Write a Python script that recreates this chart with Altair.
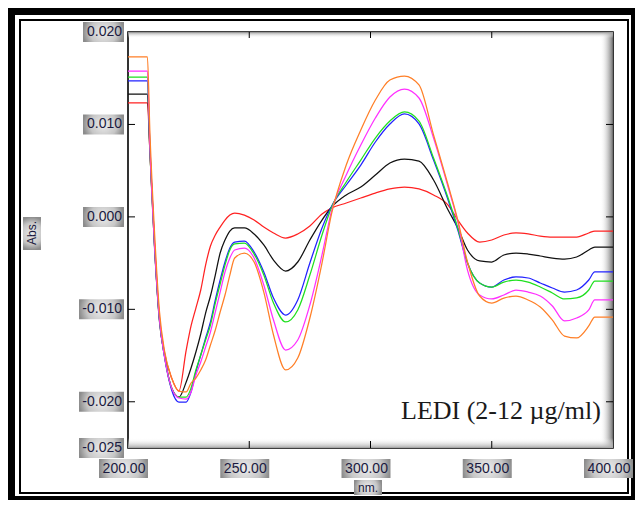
import altair as alt
import pandas as pd

# ---------------- data ----------------
wavelength_nm = [200, 208, 209, 211, 213, 215, 218, 221, 224, 226, 228, 230, 232, 234, 236,
                 238, 240, 242, 244, 248, 252, 256, 260, 265, 270, 275, 280, 284, 290, 296,
                 302, 308, 314, 320, 326, 332, 336, 340, 345, 350, 355, 360, 365, 370, 375,
                 380, 385, 390, 392.5, 400]

abs_2 = [0.01232, 0.01232, 0.00723, -0.00304, -0.01094, -0.01462, -0.01743, -0.01884, -0.01440, -0.01180,
         -0.00986, -0.00791, -0.00521, -0.00315, -0.00196, -0.00110, -0.00034, 0.00020, 0.00042, 0.00020,
         -0.00034, -0.00110, -0.00174, -0.00229, -0.00185, -0.00099, 0.00031, 0.00096, 0.00150, 0.00204,
         0.00258, 0.00302, 0.00323, 0.00302, 0.00237, 0.00128, -0.00034, -0.00174, -0.00272, -0.00250,
         -0.00196, -0.00174, -0.00185, -0.00207, -0.00218, -0.00218, -0.00218, -0.00174, -0.00153, -0.00153]
abs_4 = [0.01329, 0.01329, 0.00723, -0.00358, -0.01137, -0.01494, -0.01851, -0.01949, -0.01786, -0.01635,
         -0.01462, -0.01267, -0.01040, -0.00856, -0.00629, -0.00391, -0.00250, -0.00153, -0.00120, -0.00120,
         -0.00185, -0.00304, -0.00467, -0.00586, -0.00488, -0.00250, -0.00034, 0.00107, 0.00237, 0.00323,
         0.00453, 0.00583, 0.00626, 0.00604, 0.00399, 0.00074, -0.00120, -0.00358, -0.00477, -0.00488,
         -0.00412, -0.00391, -0.00402, -0.00423, -0.00445, -0.00456, -0.00434, -0.00358, -0.00326, -0.00326]
abs_6 = [0.01470, 0.01470, 0.00778, -0.00337, -0.01116, -0.01505, -0.01873, -0.02003, -0.02003, -0.01894,
         -0.01678, -0.01494, -0.01310, -0.01137, -0.00899, -0.00683, -0.00488, -0.00337, -0.00272, -0.00261,
         -0.00380, -0.00596, -0.00878, -0.01062, -0.00899, -0.00499, -0.00120, 0.00118, 0.00345, 0.00561,
         0.00810, 0.01005, 0.01113, 0.01005, 0.00615, 0.00183, -0.00142, -0.00499, -0.00715, -0.00759,
         -0.00683, -0.00650, -0.00661, -0.00715, -0.00769, -0.00813, -0.00791, -0.00683, -0.00596, -0.00596]
abs_8 = [0.01513, 0.01513, 0.00745, -0.00337, -0.01116, -0.01494, -0.01851, -0.01949, -0.01949, -0.01851,
         -0.01656, -0.01494, -0.01332, -0.01170, -0.00932, -0.00726, -0.00521, -0.00358, -0.00293, -0.00283,
         -0.00402, -0.00629, -0.00932, -0.01137, -0.01007, -0.00629, -0.00196, 0.00107, 0.00377, 0.00615,
         0.00853, 0.01037, 0.01135, 0.01037, 0.00637, 0.00204, -0.00120, -0.00499, -0.00715, -0.00759,
         -0.00705, -0.00683, -0.00705, -0.00759, -0.00823, -0.00888, -0.00877, -0.00791, -0.00694, -0.00694]
abs_10 = [0.01578, 0.01578, 0.00778, -0.00337, -0.01116, -0.01505, -0.01851, -0.01959, -0.01970, -0.01894,
          -0.01710, -0.01570, -0.01408, -0.01245, -0.01029, -0.00813, -0.00596, -0.00445, -0.00358, -0.00337,
          -0.00445, -0.00737, -0.01116, -0.01440, -0.01332, -0.00953, -0.00412, 0.00070, 0.00453, 0.00778,
          0.01070, 0.01297, 0.01383, 0.01286, 0.00853, 0.00323, -0.00055, -0.00575, -0.00845, -0.00888,
          -0.00845, -0.00791, -0.00813, -0.00856, -0.00964, -0.01126, -0.01094, -0.01007, -0.00899, -0.00899]
abs_12 = [0.01730, 0.01730, 0.00940, -0.00196, -0.01029, -0.01440, -0.01743, -0.01884, -0.01894, -0.01797,
          -0.01743, -0.01656, -0.01548, -0.01386, -0.01224, -0.01029, -0.00845, -0.00629, -0.00445, -0.00391,
          -0.00488, -0.00813, -0.01278, -0.01656, -0.01527, -0.01094, -0.00499, 0.00040, 0.00561, 0.00940,
          0.01264, 0.01481, 0.01524, 0.01427, 0.00886, 0.00345, -0.00034, -0.00488, -0.00856, -0.00932,
          -0.00878, -0.00856, -0.00899, -0.00975, -0.01116, -0.01289, -0.01310, -0.01180, -0.01083, -0.01083]

series_names = ["2 µg/ml", "4 µg/ml", "6 µg/ml", "8 µg/ml", "10 µg/ml", "12 µg/ml"]
series_colors = ["#ff2222", "#111111", "#2222ff", "#1fe01f", "#ff30ff", "#ff7f27"]
series_values = [abs_2, abs_4, abs_6, abs_8, abs_10, abs_12]

x_tick_labels = [200, 250, 300, 350, 400]
x_inner_ticks = [250, 300, 350]
y_tick_labels = [0.020, 0.010, 0.000, -0.010, -0.020, -0.025]
y_inner_ticks = [0.010, 0.000, -0.010, -0.020]

annotation = "LEDI (2-12 µg/ml)"
x_title = "nm."
y_title = "Abs."

# ---------------- tables ----------------
rows = []
for name, vals in zip(series_names, series_values):
    for w, v in zip(wavelength_nm, vals):
        rows.append({"wl": w, "abs": v, "conc": name})
spectra = pd.DataFrame(rows)
xlab_df = pd.DataFrame({"wl": x_tick_labels})
xtick_df = pd.DataFrame({"wl": x_inner_ticks})
ylab_df = pd.DataFrame({"v": y_tick_labels})
ytick_df = pd.DataFrame({"v": y_inner_ticks})
one = pd.DataFrame({"k": [0]})

xs = alt.Scale(domain=[200, 400], nice=False, zero=False)
ys = alt.Scale(domain=[-0.025, 0.020], nice=False, zero=False)

box_fill = {"gradient": "radial",
            "stops": [{"offset": 0, "color": "#ececec"},
                      {"offset": 0.65, "color": "#c6c6c6"},
                      {"offset": 1, "color": "#8c8c8c"}]}
label_color = "#1a1a40"
label_font = "Liberation Sans"

# ---------------- decorations ----------------
def band(x1, x2, y1, y2, color="#000000"):
    return alt.Chart(one).mark_rect(color=color).encode(
        x=alt.value(x1), x2=alt.value(x2), y=alt.value(y1), y2=alt.value(y2))

frame = [
    band(-120, 507, -24, -17),
    band(-120, -113, -24, 468),
    band(503, 507, -24, 468),
    band(-120, 507, 464, 468),
    alt.Chart(one).mark_rect(fill=None, stroke="#000000", strokeWidth=2).encode(
        x=alt.value(-108), x2=alt.value(500), y=alt.value(-12), y2=alt.value(461)),
]

right_shade = alt.Chart(one).mark_rect(
    fill={"gradient": "linear", "x1": 0, "y1": 0, "x2": 1, "y2": 0,
          "stops": [{"offset": 0, "color": "rgba(255,255,255,0)"},
                    {"offset": 1, "color": "#707070"}]}).encode(
    x=alt.value(472), x2=alt.value(485), y=alt.value(0), y2=alt.value(416))
bottom_shade = alt.Chart(one).mark_rect(
    fill={"gradient": "linear", "x1": 0, "y1": 0, "x2": 0, "y2": 1,
          "stops": [{"offset": 0, "color": "rgba(255,255,255,0)"},
                    {"offset": 1, "color": "#a8a8a8"}]}).encode(
    x=alt.value(0), x2=alt.value(485), y=alt.value(406), y2=alt.value(416))
top_shade = alt.Chart(one).mark_rect(
    fill={"gradient": "linear", "x1": 0, "y1": 0, "x2": 0, "y2": 1,
          "stops": [{"offset": 0, "color": "#9a9a9a"},
                    {"offset": 1, "color": "rgba(255,255,255,0)"}]}).encode(
    x=alt.value(0), x2=alt.value(485), y=alt.value(0), y2=alt.value(6))

ybox_pos = alt.Chart(ylab_df).transform_filter("datum.v >= 0").mark_rect(
    fill=box_fill, yOffset=-10, y2Offset=10).encode(
    y=alt.Y("v:Q", scale=ys, axis=None), y2="v:Q", x=alt.value(-45), x2=alt.value(-4))
ybox_neg = alt.Chart(ylab_df).transform_filter("datum.v < 0").mark_rect(
    fill=box_fill, yOffset=-10, y2Offset=10).encode(
    y=alt.Y("v:Q", scale=ys, axis=None), y2="v:Q", x=alt.value(-49), x2=alt.value(-4))
xbox = alt.Chart(xlab_df).mark_rect(fill=box_fill, xOffset=-29, x2Offset=20).encode(
    x=alt.X("wl:Q", scale=xs, axis=None), x2="wl:Q", y=alt.value(427), y2=alt.value(446))

ylab_text = alt.Chart(ylab_df).transform_calculate(
    lab="replace(format(datum.v, '.3f'), '\u2212', '-')").mark_text(
    font=label_font, fontSize=14, color=label_color, align="right", baseline="middle").encode(
    y=alt.Y("v:Q", scale=ys, axis=None), x=alt.value(-6), text="lab:N")
xlab_text = alt.Chart(xlab_df).transform_calculate(
    lab="format(datum.wl, '.2f')").mark_text(
    font=label_font, fontSize=14, color=label_color, align="center", baseline="middle", dx=-4).encode(
    x=alt.X("wl:Q", scale=xs, axis=None), y=alt.value(437), text="lab:N")

abs_box = alt.Chart(one).mark_rect(fill=box_fill).encode(
    x=alt.value(-105), x2=alt.value(-87), y=alt.value(185), y2=alt.value(218))
nm_box = alt.Chart(one).mark_rect(fill=box_fill).encode(
    x=alt.value(226), x2=alt.value(254), y=alt.value(448), y2=alt.value(463))
abs_text = alt.Chart(one).mark_text(text=y_title, angle=270, font=label_font, fontSize=12,
                                    color=label_color, align="center", baseline="middle").encode(
    x=alt.value(-96), y=alt.value(201))
nm_text = alt.Chart(one).mark_text(text=x_title, font=label_font, fontSize=12,
                                   color=label_color, align="center", baseline="middle").encode(
    x=alt.value(240), y=alt.value(456))

yt_left = alt.Chart(ytick_df).mark_rule(color="#000", strokeWidth=1).encode(
    y=alt.Y("v:Q", scale=ys, axis=None), x=alt.value(0), x2=alt.value(7))
yt_right = alt.Chart(ytick_df).mark_rule(color="#000", strokeWidth=1).encode(
    y=alt.Y("v:Q", scale=ys, axis=None), x=alt.value(478), x2=alt.value(485))
xt_bottom = alt.Chart(xtick_df).mark_rule(color="#000", strokeWidth=1).encode(
    x=alt.X("wl:Q", scale=xs, axis=None), y=alt.value(409), y2=alt.value(416))
xt_top = alt.Chart(xtick_df).mark_rule(color="#000", strokeWidth=1).encode(
    x=alt.X("wl:Q", scale=xs, axis=None), y=alt.value(0), y2=alt.value(6))

lines = alt.Chart(spectra).mark_line(strokeWidth=1.25, clip=True, interpolate="monotone").encode(
    x=alt.X("wl:Q", scale=xs, axis=None),
    y=alt.Y("abs:Q", scale=ys, axis=None),
    color=alt.Color("conc:N", scale=alt.Scale(domain=series_names, range=series_colors), legend=None),
)

note = alt.Chart(one).mark_text(text=annotation, font="Liberation Serif", fontSize=26,
                                color="#1a1a1a", align="left", baseline="alphabetic").encode(
    x=alt.value(273), y=alt.value(387))

chart = alt.layer(
    *frame, right_shade, bottom_shade, top_shade,
    ybox_pos, ybox_neg, xbox, abs_box, nm_box,
    ylab_text, xlab_text, abs_text, nm_text,
    yt_left, yt_right, xt_bottom, xt_top,
    lines, note,
).properties(
    width=485, height=416,
    padding={"left": 120, "top": 24, "right": 22, "bottom": 52},
    autosize=alt.AutoSizeParams(type="none"),
).configure_view(stroke="#000000", strokeWidth=1.6)

chart.save("out.html", embed_options={"renderer": "svg", "actions": False})
